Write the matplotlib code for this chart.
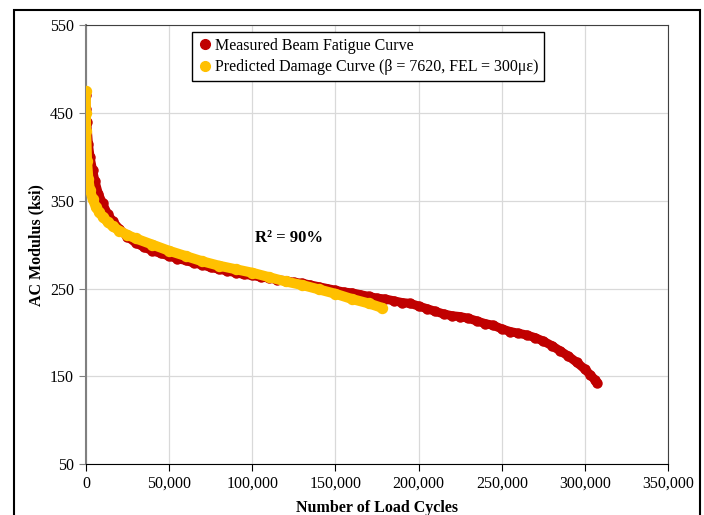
import matplotlib
matplotlib.use('Agg')
import matplotlib.pyplot as plt
from matplotlib.lines import Line2D
from matplotlib.patches import Rectangle
from matplotlib.ticker import StrMethodFormatter, MultipleLocator

plt.rcParams['font.family'] = ['Liberation Serif', 'DejaVu Serif']

# measured beam fatigue curve
measured_cycles = [0, 0, 500, 1500, 2500, 4000, 5500, 7500, 10000, 13000, 16000,
                   20000, 25000, 30000, 35000, 40000, 45000, 50000, 55000, 60000,
                   65000, 70000, 75000, 80000, 85000, 90000, 95000, 100000, 105000,
                   110000, 115000, 120000, 125000, 130000, 135000, 140000, 145000,
                   150000, 155000, 160000, 165000, 170000, 175000, 180000, 185000,
                   190000, 195000, 200000, 205000, 210000, 215000, 220000, 225000,
                   230000, 235000, 240000, 245000, 250000, 255000, 260000, 265000,
                   270000, 275000, 280000, 285000, 290000, 295000, 300000, 303000,
                   306000, 307500]
measured_modulus = [470, 455, 440, 415, 400, 385, 372, 358, 347, 335, 327,
                    318, 309, 302, 297, 293, 290, 287, 284, 282,
                    279, 277, 274, 272, 270, 268, 266, 265, 263,
                    262, 260, 259, 257, 256, 254, 252, 250,
                    248, 246, 245, 243, 241, 239, 238, 236,
                    234, 233, 230, 227, 224, 221, 219, 218,
                    216, 213, 210, 208, 204, 201, 199, 197,
                    194, 190, 185, 179, 173, 166, 158, 152,
                    146, 142]

# predicted damage curve
predicted_cycles = [0, 0, 200, 700, 1500, 2500, 4000, 6000, 8000, 10000, 13000,
                    16000, 20000, 25000, 30000, 40000, 50000, 60000, 70000, 80000,
                    90000, 100000, 110000, 120000, 130000, 140000, 150000, 160000,
                    170000, 178000]
predicted_modulus = [475, 450, 430, 395, 375, 362, 352, 343, 337, 332, 326,
                     321, 316, 311, 307, 300, 293, 287, 281, 276,
                     272, 268, 263, 258, 254, 249, 244, 238,
                     233, 228]

y_ticks = [50, 150, 250, 350, 450, 550]

red = '#c00000'
gold = '#ffc000'

fig = plt.figure(figsize=(7.04, 5.15), dpi=100)
ax = fig.add_axes([0.122, 0.099, 0.827, 0.852])

ax.plot(measured_cycles, measured_modulus, color=red, lw=6.5, marker='o', ms=6.5,
        solid_capstyle='round', solid_joinstyle='round', zorder=3)
ax.plot(predicted_cycles, predicted_modulus, color=gold, lw=7.2, marker='o', ms=7.2,
        solid_capstyle='round', solid_joinstyle='round', zorder=4)

ax.set_xlim(0, 350000)
ax.set_ylim(50, 550)
ax.xaxis.set_major_locator(MultipleLocator(50000))
ax.set_yticks(y_ticks)
ax.xaxis.set_major_formatter(StrMethodFormatter('{x:,.0f}'))
ax.grid(True, color='#d9d9d9', lw=0.9)
ax.set_axisbelow(True)

ax.spines['left'].set_color('#808080')
ax.spines['left'].set_linewidth(1.5)
ax.spines['bottom'].set_color('#000000')
ax.spines['top'].set_color('#404040')
ax.spines['right'].set_color('#404040')
ax.tick_params(axis='both', direction='out', length=5, labelsize=11.5, colors='black')
ax.tick_params(axis='y', color='#808080')

ax.set_xlabel('Number of Load Cycles', fontsize=11.5, fontweight='bold', labelpad=6)
ax.set_ylabel('AC Modulus (ksi)', fontsize=11.5, fontweight='bold', labelpad=4)

ax.text(122000, 308, 'R² = 90%', fontsize=12, fontweight='bold', ha='center', va='center')

handles = [
    Line2D([], [], color=red, marker='o', ls='none', ms=7),
    Line2D([], [], color=gold, marker='o', ls='none', ms=7),
]
leg = ax.legend(handles, ['Measured Beam Fatigue Curve',
                          'Predicted Damage Curve (β = 7620, FEL = 300με)'],
                loc='upper left', bbox_to_anchor=(0.182, 0.984), borderaxespad=0,
                fontsize=11.5, fancybox=False, edgecolor='black', framealpha=1,
                handletextpad=0.1, handlelength=1.0, borderpad=0.35, labelspacing=0.35)
leg.get_frame().set_linewidth(1.0)

fig.patches.append(Rectangle((14 / 704, -0.05), (700 - 14) / 704, 1.05 - 10 / 515,
                             transform=fig.transFigure, fill=False, ec='black', lw=1.5))

fig.savefig('out.png', dpi=100)
